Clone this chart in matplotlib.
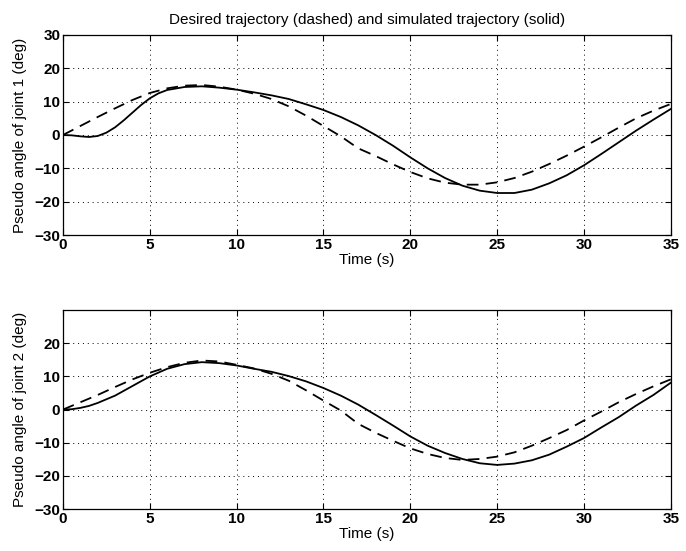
import matplotlib
matplotlib.use("Agg")
import matplotlib.pyplot as plt

plt.rcParams["font.family"] = ["Liberation Sans", "DejaVu Sans"]

# values (deg vs s)
t_des = list(range(0, 36))
t_sim1 = [0, 0.5, 1, 1.5, 2, 2.5, 3, 3.5, 4, 4.5, 5, 5.5] + list(range(6, 36))
t_sim2 = [0, 0.5, 1, 1.5, 2] + list(range(3, 36))

joint1_des = [0, 2.7, 5.4, 8.0, 10.5, 12.6, 14.0, 14.8, 15.0, 14.5, 13.6, 12.4,
              10.8, 8.6, 5.8, 2.7, -0.4, -4.0, -6.3, -8.8, -11.1, -13.0, -14.3,
              -14.9, -14.9, -14.2, -12.9, -11.0, -8.7, -6.2, -3.5, -0.7, 2.2,
              5.0, 7.3, 9.3]
joint1_sim = [0, -0.1, -0.4, -0.6, -0.3, 0.7, 2.3, 4.4, 6.7, 9.0, 11.0, 12.5,
              13.5, 14.4, 14.6, 14.2, 13.6, 12.8, 11.9, 10.8, 9.2, 7.5, 5.4,
              2.9, 0.0, -3.2, -6.7, -10.0, -12.9, -15.2, -16.7, -17.4, -17.4,
              -16.4, -14.5, -12.1, -9.1, -5.7, -2.2, 1.3, 4.6, 7.8]

joint2_des = [0, 2.2, 4.4, 6.8, 9.1, 11.1, 12.8, 14.1, 14.8, 14.5, 13.5, 12.4,
              10.8, 8.7, 5.8, 2.7, -0.3, -4.3, -7.0, -9.4, -11.7, -13.4, -14.6,
              -15.2, -14.9, -14.2, -12.9, -10.9, -8.6, -6.2, -3.3, -0.6, 2.2,
              4.7, 7.0, 9.1]
joint2_sim = [0, 0.1, 0.5, 1.1, 2.0, 4.2, 7.1, 10.0, 12.3, 13.7, 14.3, 14.0,
              13.3, 12.3, 11.4, 10.1, 8.5, 6.5, 4.2, 1.5, -1.6, -4.8, -8.1,
              -10.9, -13.1, -14.9, -16.2, -16.7, -16.3, -15.3, -13.6, -11.2,
              -8.6, -5.4, -2.3, 1.2, 4.4, 8.1]

x_ticks = [0, 5, 10, 15, 20, 25, 30, 35]
y_ticks_1 = [-30, -20, -10, 0, 10, 20, 30]
y_ticks_2 = [-30, -20, -10, 0, 10, 20]

fig = plt.figure(figsize=(6.86, 5.51), dpi=100)
ax1 = fig.add_axes([0.0918, 0.5735, 0.886, 0.363])
ax2 = fig.add_axes([0.0918, 0.0762, 0.886, 0.361])

panels = [(ax1, t_des, joint1_des, t_sim1, joint1_sim, y_ticks_1, "Pseudo angle of joint 1 (deg)"),
          (ax2, t_des, joint2_des, t_sim2, joint2_sim, y_ticks_2, "Pseudo angle of joint 2 (deg)")]

for ax, td, yd, ts, ys, yt, ylab in panels:
    ax.plot(td, yd, color="black", lw=1.3, linestyle=(0, (6.5, 4)))
    ax.plot(ts, ys, color="black", lw=1.3)
    ax.set_xlim(0, 35)
    ax.set_ylim(-30, 30)
    ax.set_xticks(x_ticks)
    ax.set_yticks(yt)
    ax.set_xticklabels([str(v) for v in x_ticks])
    ax.set_yticklabels([str(v).replace("-", "\u2212") for v in yt])
    ax.tick_params(direction="in", length=4, width=0.8, top=True, right=True,
                   labelsize=11, pad=2)
    for lab in ax.get_xticklabels() + ax.get_yticklabels():
        lab.set_fontweight("bold")
    ax.grid(True, color="black", linestyle=(0, (1, 4)), linewidth=0.7)
    for s in ax.spines.values():
        s.set_linewidth(0.9)
    ax.set_xlabel("Time (s)", fontsize=11, labelpad=1)
    ax.set_ylabel(ylab, fontsize=11, labelpad=5)

ax1.set_title("Desired trajectory (dashed) and simulated trajectory (solid)",
              fontsize=11, pad=8)

fig.savefig("out.png", dpi=100)
